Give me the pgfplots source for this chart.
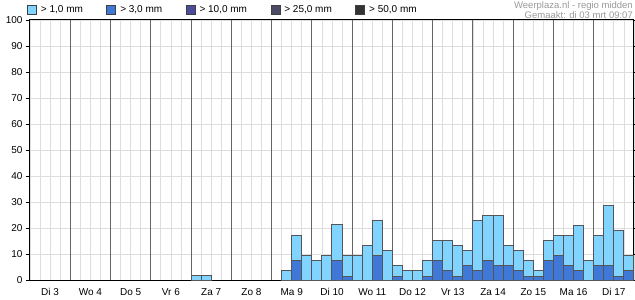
\documentclass[border=0pt]{standalone}
\usepackage{pgfplots}
\pgfplotsset{compat=1.18}
\usepackage{fontspec}
\setmainfont{Liberation Sans}
\definecolor{lightb}{HTML}{80D4FF}
\definecolor{midb}{HTML}{3F78D6}
\definecolor{c10}{HTML}{4C4C9E}
\definecolor{c25}{HTML}{4B4B66}
\definecolor{c50}{HTML}{333333}
\definecolor{bord}{HTML}{555555}
\definecolor{gridc}{HTML}{DDDDDD}
\definecolor{dayc}{HTML}{666666}
\definecolor{txtg}{HTML}{999999}
\begin{document}
\begin{tikzpicture}[x=1pt,y=1pt]
\useasboundingbox (0,0) rectangle (635,300);
\begin{axis}[
  at={(30pt,20pt)}, anchor=south west,
  scale only axis, width=604pt, height=260pt,
  xmin=0, xmax=60, ymin=0, ymax=100,
  xtick={2,6,...,58},
  xticklabels={Di 3,Wo 4,Do 5,Vr 6,Za 7,Zo 8,Ma 9,Di 10,Wo 11,Do 12,Vr 13,Za 14,Zo 15,Ma 16,Di 17},
  minor xtick={0,...,60},
  ytick={0,10,...,100},
  xtick style={draw=none},
  tick align=outside,
  major tick length=4pt, minor tick length=4pt,
  minor x tick style={black, line width=0.8pt},
  ytick style={black, line width=0.8pt},
  xmajorgrids=false, xminorgrids=true, ymajorgrids=true,
  minor grid style={gridc, line width=0.8pt},
  major grid style={gridc, line width=0.8pt},
  extra x ticks={4,8,...,56},
  extra x tick labels={},
  extra x tick style={grid=major, major grid style={dayc, line width=1pt}, major tick length=0pt},
  axis line style={black, line width=1pt},
  tick label style={font=\fontsize{10}{12}\selectfont, text=black},
  /pgf/number format/assume math mode=true,
  xticklabel style={yshift=-1pt},
  legend columns=5,
  legend style={at={(0,1)}, anchor=south west, xshift=-6pt, yshift=2pt, draw=none, fill=none,
    font=\fontsize{10}{12}\selectfont,
    /tikz/every odd column/.append style={column sep=2pt},
    /tikz/every even column/.append style={column sep=21.5pt}},
  legend image code/.code={\draw[#1, draw=black!75, line width=0.8pt] (0pt,-4.5pt) rectangle (9pt,4.5pt);},
]
\addplot[ybar, bar width=1, bar shift=0pt, fill=lightb, draw=bord, line width=1pt] coordinates {
(16.5,1.9) (17.5,1.9)
(25.5,3.8) (26.5,17.3) (27.5,9.3)
(28.5,7.4) (29.5,9.3) (30.5,21.2) (31.5,9.3)
(32.5,9.3) (33.5,13.2) (34.5,22.8) (35.5,11.3)
(36.5,5.5) (37.5,3.6) (38.5,3.6) (39.5,7.4)
(40.5,15.1) (41.5,15.1) (42.5,13.2) (43.5,11.3)
(44.5,22.8) (45.5,24.7) (46.5,24.7) (47.5,13.2)
(48.5,11.3) (49.5,7.4) (50.5,3.6) (51.5,15.1)
(52.5,17.0) (53.5,17.0) (54.5,20.9) (55.5,7.4)
(56.5,17.0) (57.5,28.6) (58.5,19.0) (59.5,9.3)
};
\addplot[ybar, bar width=1, bar shift=0pt, fill=midb, draw=bord, line width=1pt] coordinates {
(26.5,7.4)
(30.5,7.4) (31.5,1.5)
(34.5,9.3)
(36.5,1.5) (39.5,1.5)
(40.5,7.4) (41.5,3.6) (42.5,1.5) (43.5,5.4)
(44.5,3.6) (45.5,7.4) (46.5,5.4) (47.5,5.4)
(48.5,3.6) (49.5,1.5) (50.5,1.5) (51.5,7.4)
(52.5,9.3) (53.5,5.4) (54.5,3.6)
(56.5,5.4) (57.5,5.4) (58.5,1.5) (59.5,3.6)
};
\addlegendimage{fill=c10}
\addlegendimage{fill=c25}
\addlegendimage{fill=c50}
\legend{{> 1,0 mm},{> 3,0 mm},{> 10,0 mm},{> 25,0 mm},{> 50,0 mm}}
\end{axis}
\node[anchor=north east, align=right, text=txtg, font=\fontsize{9.5}{10.5}\selectfont, inner sep=0pt] at (633,299) {Weerplaza.nl - regio midden\\Gemaakt: di 03 mrt 09:07};
\end{tikzpicture}
\end{document}
